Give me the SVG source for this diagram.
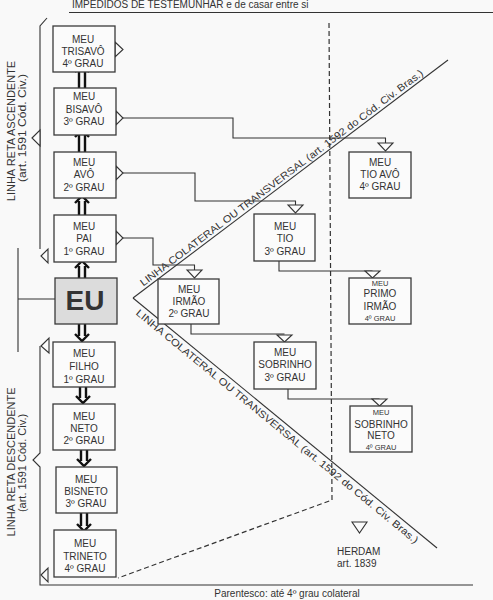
<svg xmlns="http://www.w3.org/2000/svg" width="493" height="600" viewBox="0 0 493 600">
<style>
.bg{fill:#f9f9f9}
.box{fill:#fbfbfb;stroke:#3a3a3a;stroke-width:1.3}
.eu{fill:#dcdcdc;stroke:#3a3a3a;stroke-width:1.3}
.t{font-family:"Liberation Sans",Arial,sans-serif;font-size:10px;fill:#333;text-anchor:middle}
.s{font-size:7.5px}
.ln{fill:none;stroke:#333;stroke-width:1.1}
.tri{fill:#fbfbfb;stroke:#333;stroke-width:1.1}
.dash{fill:none;stroke:#333;stroke-width:1.2;stroke-dasharray:5,3}
.arr{fill:none;stroke:#111;stroke-width:2.4}
.lab{font-family:"Liberation Sans",Arial,sans-serif;font-size:10px;fill:#333}
.big{font-family:"Liberation Sans",Arial,sans-serif;font-size:11px;fill:#333;text-anchor:middle}
</style>
<rect class="bg" x="0" y="0" width="493" height="600"/>

<g id="header">
<text class="lab" x="72" y="7.5">IMPEDIDOS DE TESTEMUNHAR e de casar entre si</text>
<line class="ln" x1="69" y1="12.5" x2="493" y2="12.5"/>
</g>

<g id="footer">
<text class="lab" x="287" y="597" text-anchor="middle">Parentesco: até 4º grau colateral</text>
</g>

<g id="connectors">
<!-- ascending bracket -->
<path class="ln" d="M47,18 L40,26 V249"/>
<polygon class="tri" points="32,138 40,130 40,146"/>
<polygon class="tri" points="41,256 48,249 48,263"/>
<!-- descending bracket -->
<polygon class="tri" points="41,346 49,338 49,353"/>
<path class="ln" d="M40,346 V453 L33,460 L40,467 V585 H473"/>
<polygon class="tri" points="41,575 48,568 48,582"/>
<!-- EU tee -->
<path class="ln" d="M18,248 V352 M18,299 H55"/>
<!-- collateral lines -->
<line class="ln" x1="133" y1="298" x2="448" y2="60"/>
<line class="ln" x1="133" y1="298" x2="437" y2="548"/>
<path class="dash" d="M329,23 L332,500 L118,578"/>
<!-- side triangles -->
<polygon class="tri" points="115,42 123,49.5 115,57"/>
<polygon class="tri" points="116,111 123,118 116,125"/>
<polygon class="tri" points="116,166 123,173 116,180"/>
<polygon class="tri" points="116,231 123,238 116,245"/>
<!-- branch lines -->
<path class="ln" d="M123,118 H233 V138 H385.5 V143"/>
<path class="ln" d="M123,173 H195 V201 H295.5 V205"/>
<path class="ln" d="M123,238 H153 V265 H194.5 V270"/>
<path class="ln" d="M279,261 V271 H372.5"/>
<path class="ln" d="M191,324 V334 H284.5"/>
<path class="ln" d="M288,389 V399 H379.5"/>
<!-- down triangles -->
<polygon class="tri" points="378,143 393,143 385.5,151"/>
<polygon class="tri" points="288,205 303,205 295.5,213"/>
<polygon class="tri" points="187,270 202,270 194.5,278"/>
<polygon class="tri" points="365,271 380,271 372.5,278"/>
<polygon class="tri" points="277,335 292,335 284.5,342"/>
<polygon class="tri" points="372,399 387,399 379.5,406"/>
<polygon class="tri" points="352,522 367,522 359.5,533"/>
<!-- double arrows up -->
<path class="arr" d="M79,279 V266 M85,279 V266 M75,268 L82,261 L89,268"/>
<path class="arr" d="M79,216 V201 M85,216 V201 M75,203 L82,196 L89,203"/>
<path class="arr" d="M79,153 V135 M85,153 V135 M75,137 L82,130 L89,137"/>
<path class="arr" d="M79,89 V70 M85,89 V70 M75,72 L82,65 L89,72"/>
<!-- double arrows down -->
<path class="arr" d="M79,323 V336 M85,323 V336 M75,334 L82,341 L89,334"/>
<path class="arr" d="M80,382 V398 M86,382 V398 M76,396 L83,403 L90,396"/>
<path class="arr" d="M81,449 V461 M87,449 V461 M77,459 L84,466 L91,459"/>
<path class="arr" d="M81,512 V526 M87,512 V526 M77,524 L84,531 L91,524"/>
</g>

<g id="labels">
<text class="big" transform="translate(15,131) rotate(-90)">LINHA RETA ASCENDENTE</text>
<text class="big" transform="translate(26,128) rotate(-90)" textLength="108" lengthAdjust="spacingAndGlyphs">(art. 1591 Cód. Civ.)</text>
<text class="big" transform="translate(15,462) rotate(-90)">LINHA RETA DESCENDENTE</text>
<text class="big" transform="translate(26,463) rotate(-90)">(art. 1591  Cód. Civ.)</text>
<text class="lab" transform="translate(143.2,286.6) rotate(-37.07)" textLength="352" lengthAdjust="spacingAndGlyphs">LINHA COLATERAL OU TRANSVERSAL (art. 1592 do Cód. Civ. Bras.)</text>
<text class="lab" transform="translate(135.3,314.1) rotate(39.43)" textLength="362" lengthAdjust="spacingAndGlyphs">LINHA COLATERAL OU TRANSVERSAL (art. 1592 do Cód. Civ. Bras.)</text>
<text class="lab" x="337" y="555">HERDAM</text>
<text class="lab" x="337" y="567">art. 1839</text>
</g>

<g id="trisavo"><rect class="box" x="53" y="26" width="62" height="46"/>
<text class="t" x="83" y="43">MEU</text><text class="t" x="83" y="55">TRISAVÔ</text><text class="t" x="83" y="67">4º GRAU</text></g>
<g id="bisavo"><rect class="box" x="54" y="88" width="62" height="47"/>
<text class="t" x="84" y="100">MEU</text><text class="t" x="84" y="113">BISAVÔ</text><text class="t" x="84" y="125">3º GRAU</text></g>
<g id="avo"><rect class="box" x="54" y="152" width="62" height="46"/>
<text class="t" x="84" y="166">MEU</text><text class="t" x="84" y="178">AVÔ</text><text class="t" x="84" y="191">2º GRAU</text></g>
<g id="pai"><rect class="box" x="54" y="215" width="62" height="47"/>
<text class="t" x="84" y="230">MEU</text><text class="t" x="84" y="242">PAI</text><text class="t" x="84" y="255">1º GRAU</text></g>
<g id="eu"><rect class="eu" x="55" y="278" width="62" height="46"/>
<text class="t" x="85" y="310" style="font-size:28px;font-weight:bold">EU</text></g>
<g id="filho"><rect class="box" x="53" y="342" width="62" height="45"/>
<text class="t" x="84" y="357">MEU</text><text class="t" x="84" y="370">FILHO</text><text class="t" x="84" y="383">1º GRAU</text></g>
<g id="neto"><rect class="box" x="53" y="404" width="62" height="46"/>
<text class="t" x="84" y="420">MEU</text><text class="t" x="84" y="432">NETO</text><text class="t" x="84" y="444">2º GRAU</text></g>
<g id="bisneto"><rect class="box" x="56" y="467" width="61" height="46"/>
<text class="t" x="86" y="483">MEU</text><text class="t" x="86" y="495">BISNETO</text><text class="t" x="86" y="507">3º GRAU</text></g>
<g id="trineto"><rect class="box" x="54" y="530" width="62" height="47"/>
<text class="t" x="85" y="547">MEU</text><text class="t" x="85" y="560">TRINETO</text><text class="t" x="85" y="572">4º GRAU</text></g>
<g id="tioavo"><rect class="box" x="349" y="152" width="62" height="46"/>
<text class="t" x="380" y="166">MEU</text><text class="t" x="380" y="178">TIO AVÔ</text><text class="t" x="380" y="190">4º GRAU</text></g>
<g id="tio"><rect class="box" x="254" y="214" width="61" height="47"/>
<text class="t" x="285" y="230">MEU</text><text class="t" x="285" y="242">TIO</text><text class="t" x="285" y="255">3º GRAU</text></g>
<g id="primo"><rect class="box" x="349" y="278" width="62" height="46"/>
<text class="t s" x="380" y="286">MEU</text><text class="t" x="380" y="297">PRIMO</text><text class="t" x="380" y="310">IRMÃO</text><text class="t s" x="380" y="321">4º GRAU</text></g>
<g id="irmao"><rect class="box" x="158" y="279" width="61" height="45"/>
<text class="t" x="189" y="293">MEU</text><text class="t" x="189" y="305">IRMÃO</text><text class="t" x="189" y="317">2º GRAU</text></g>
<g id="sobrinho"><rect class="box" x="254" y="342" width="62" height="47"/>
<text class="t" x="285" y="356">MEU</text><text class="t" x="285" y="368">SOBRINHO</text><text class="t" x="285" y="381">3º GRAU</text></g>
<g id="sobrinhoneto"><rect class="box" x="350" y="406" width="62" height="46"/>
<text class="t s" x="381" y="415">MEU</text><text class="t" x="381" y="428">SOBRINHO</text><text class="t" x="381" y="439">NETO</text><text class="t s" x="381" y="450">4º GRAU</text></g>
</svg>
